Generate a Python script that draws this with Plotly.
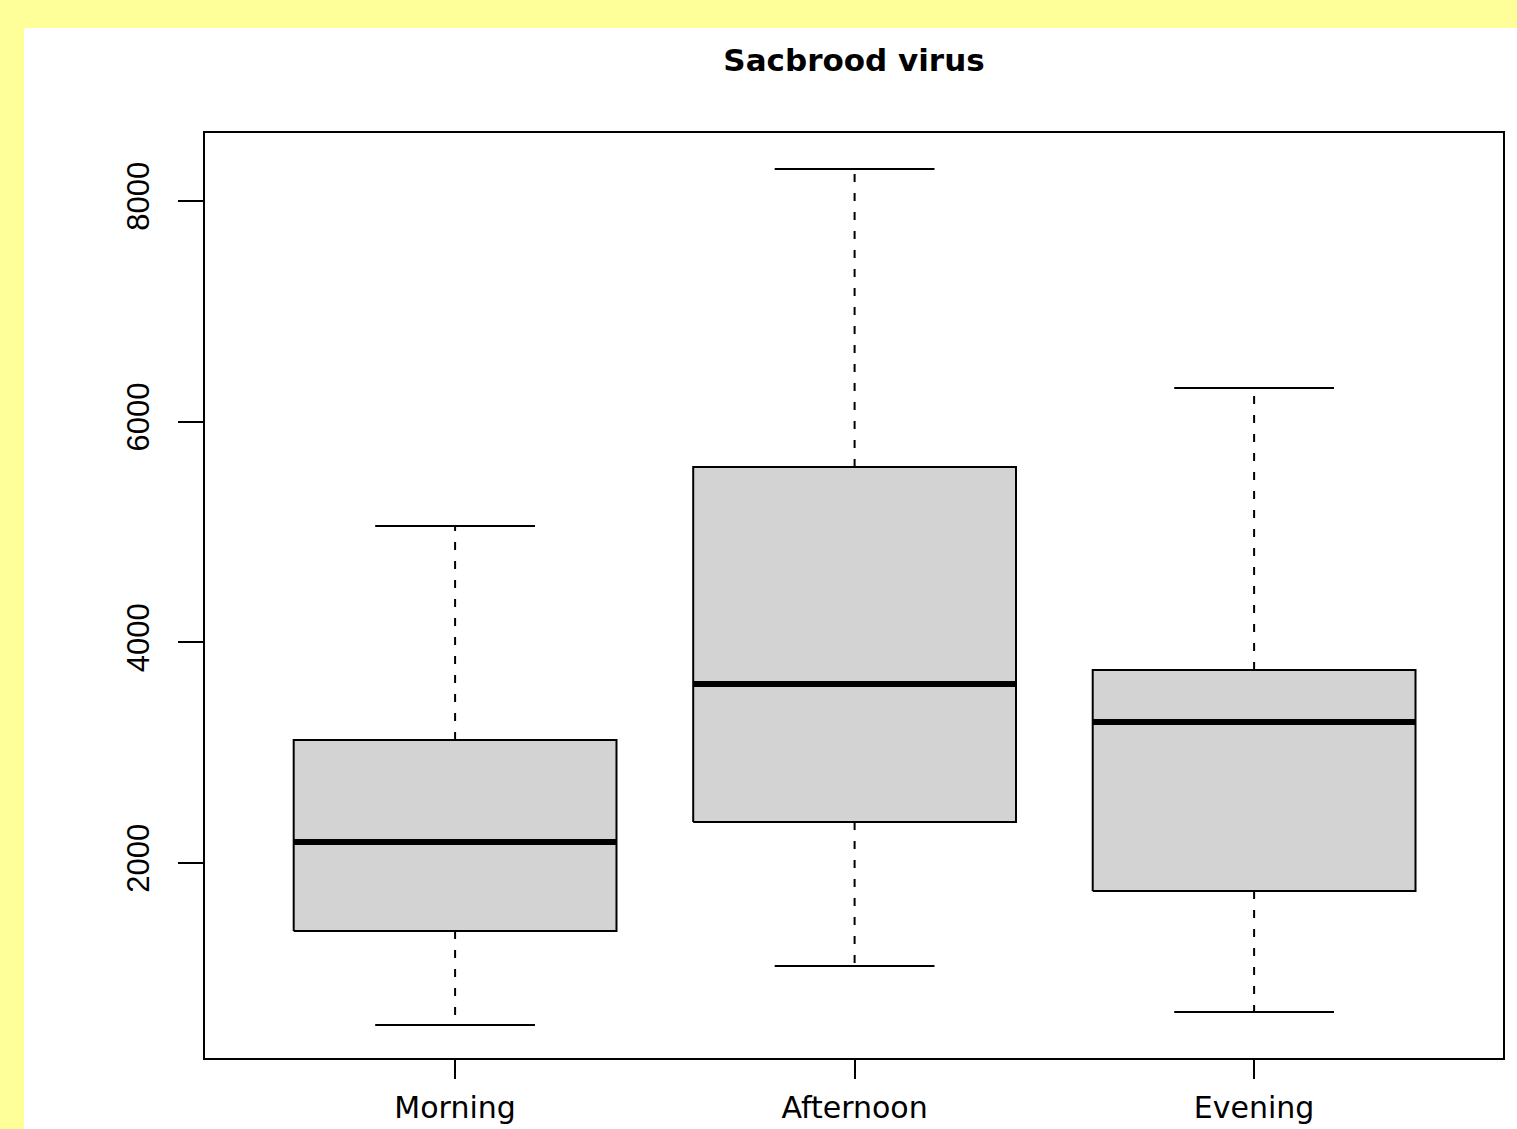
import plotly.graph_objects as go

categories = ["Morning", "Afternoon", "Evening"]
lower_whisker = [532, 1067, 650]
q1 = [1384, 2372, 1747]
median = [2190, 3622, 3278]
q3 = [3115, 5589, 3749]
upper_whisker = [5054, 8289, 6305]
y_ticks = [2000, 4000, 6000, 8000]

BOX_HALF = 0.404
CAP_HALF = 0.2
FILL = "#D3D3D3"

positions = [i + 1 for i in range(len(categories))]

fig = go.Figure()

# boxes
for x, a, b in zip(positions, q1, q3):
    fig.add_trace(go.Scatter(
        x=[x - BOX_HALF, x + BOX_HALF, x + BOX_HALF, x - BOX_HALF, x - BOX_HALF],
        y=[a, a, b, b, a], mode="lines", fill="toself", fillcolor=FILL,
        line=dict(color="black", width=2), hoverinfo="skip", showlegend=False))

# whiskers (dashed)
wx, wy = [], []
for x, a, b, lo, hi in zip(positions, q1, q3, lower_whisker, upper_whisker):
    wx += [x, x, None, x, x, None]
    wy += [b, hi, None, a, lo, None]
fig.add_trace(go.Scatter(x=wx, y=wy, mode="lines",
                         line=dict(color="black", width=2, dash="8px,11px"),
                         hoverinfo="skip", showlegend=False))

# caps
cx, cy = [], []
for x, lo, hi in zip(positions, lower_whisker, upper_whisker):
    cx += [x - CAP_HALF, x + CAP_HALF, None, x - CAP_HALF, x + CAP_HALF, None]
    cy += [hi, hi, None, lo, lo, None]
fig.add_trace(go.Scatter(x=cx, y=cy, mode="lines",
                         line=dict(color="black", width=2),
                         hoverinfo="skip", showlegend=False))

# medians
mx, my = [], []
for x, m in zip(positions, median):
    mx += [x - BOX_HALF, x + BOX_HALF, None]
    my += [m, m, None]
fig.add_trace(go.Scatter(x=mx, y=my, mode="lines",
                         line=dict(color="black", width=6),
                         hoverinfo="skip", showlegend=False))

W, H = 1517, 1129
L, R, T, B = 205, 14, 133, 71
pw, ph = W - L - R, H - T - B

fig.update_layout(
    template="none",
    width=W, height=H,
    margin=dict(l=L, r=R, t=T, b=B, pad=0, autoexpand=False),
    paper_bgcolor="#FFFF99",
    plot_bgcolor="white",
    showlegend=False,
    title=dict(text="<b>Sacbrood virus</b>", x=854 / W, xref="container",
               y=1 - 60 / H, yref="container", xanchor="center", yanchor="middle",
               automargin=False,
               font=dict(family="DejaVu Sans", size=31, color="black")),
    shapes=[dict(type="rect", xref="paper", yref="paper", layer="below",
                 x0=(24 - L) / pw, x1=(W - L) / pw,
                 y0=-B / ph, y1=(H - B - 28) / ph,
                 fillcolor="white", line=dict(width=0))],
    xaxis=dict(range=[0.374, 3.623], tickvals=positions, ticktext=categories,
               automargin=False,
               showgrid=False, zeroline=False, showline=True, mirror=True,
               linecolor="black", linewidth=2, ticks="outside", ticklen=19,
               tickwidth=2, tickcolor="black",
               tickfont=dict(family="DejaVu Sans", size=30, color="black"),
               ticklabelstandoff=3),
    yaxis=dict(range=[233, 8615], tickvals=y_ticks,
               ticktext=[str(v) for v in y_ticks],
               automargin=False,
               showgrid=False, zeroline=False, showline=True, mirror=True,
               linecolor="black", linewidth=2, ticks="outside", ticklen=25,
               tickwidth=2, tickcolor="black", tickangle=-90,
               tickfont=dict(family="Liberation Sans", size=31, color="black"),
               ticklabelstandoff=17),
)

fig.write_html("out.html", config={"displayModeBar": False},
               post_script="document.body.style.margin='0';")
